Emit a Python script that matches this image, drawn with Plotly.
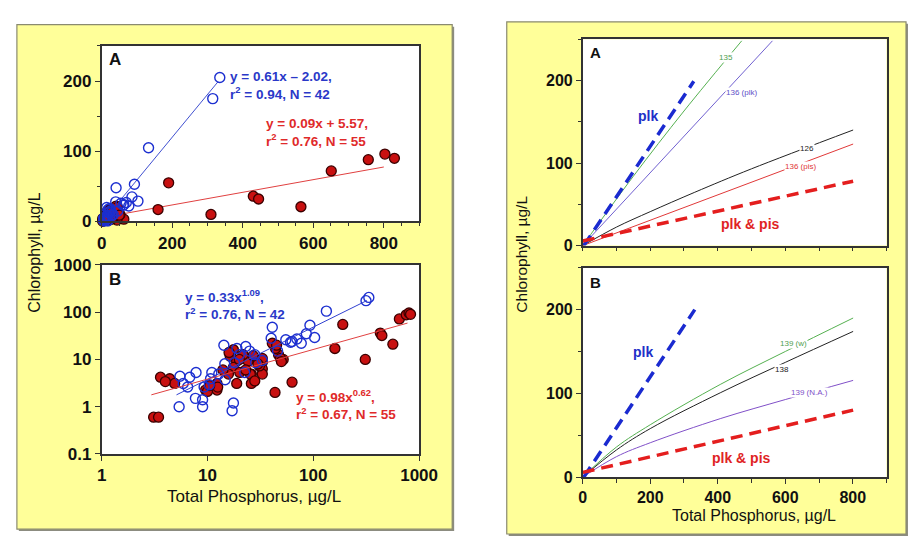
import plotly.graph_objects as go

# ---------------- data ----------------
# Plankton only (open blue circles): TP (ug/L), Chl (ug/L)
plk_tp = [335, 315, 133, 93, 103, 86, 77, 61, 55, 41, 40, 46, 28, 28.5, 23, 19, 18, 22.5,
          14.3, 14.6, 14.7, 12.8, 10.7, 10.4, 9.3, 17.6, 17.1, 9, 9, 7.7, 5.4, 7.8, 6.8,
          5.5, 6.5, 5.9, 70, 20, 11, 63, 25, 33]
plk_chl = [205, 175, 105, 53, 29, 35, 22, 23, 26, 48, 28, 15, 12.6, 8.5, 18.7, 17, 8.5, 5.3,
           20, 8.1, 3.7, 4.9, 3.9, 2.9, 2.6, 1.2, 0.82, 1.4, 1.0, 1.5, 1.0, 5.3, 4.2,
           4.4, 2.6, 3.1, 27, 12.6, 5.3, 24, 15, 9.5]
# Plankton & periphyton (filled red circles)
pis_tp = [651, 756, 803, 830, 430, 445, 565, 310, 190, 160, 63, 43.5, 52, 47, 44, 33, 33, 33,
          26, 26, 31, 33, 3.1, 3.45, 4.4, 4.9, 9.6, 12.3, 12.3, 16.4, 18.9, 17.6, 15.8, 20.2,
          24.2, 25.4, 30, 18.9, 21.7, 17.6, 3.6, 4.0, 10, 12.5, 41, 49, 16, 20, 23, 28, 14,
          10.5, 45, 50, 27]
pis_chl = [72, 88, 96, 90, 36, 32, 21, 10, 55, 17, 3.3, 2.0, 10, 12.6, 17, 8.7, 6.3, 4.9,
           4.9, 3.1, 7.3, 10.5, 0.6, 0.6, 3.9, 3.1, 2.25, 2.25, 3.1, 11.7, 9.2, 6.8, 4.9, 5.3,
           9.2, 4.9, 8, 3.1, 12.6, 16, 4.2, 3.4, 2.1, 2.6, 22, 10.5, 14, 10, 6, 3.5, 6,
           2.8, 20, 9, 12]

# regression lines (endpoints)
fitA_plk_x, fitA_plk_y = [3, 330], [0, 199]
fitA_pis_x, fitA_pis_y = [3, 800], [5.8, 77.6]
fitB_plk_x, fitB_plk_y = [5.1, 321], [1.78, 176]
fitB_pis_x, fitB_pis_y = [2.95, 777], [1.78, 58.7]

# right panel A curves
rA_plk_x, rA_plk_y = [3.3, 329], [0, 199]
rA_pis_x, rA_pis_y = [0, 801], [5.6, 78]
rA_135_x, rA_135_y = [0, 150, 300, 471], [0, 84, 163, 248]
rA_136plk_x, rA_136plk_y = [0, 562], [0, 248]
rA_126_x, rA_126_y = [0, 100, 200, 332, 500, 801], [0, 22.4, 41.1, 64.6, 93, 140]
rA_136pis_x, rA_136pis_y = [0, 801], [0, 123]
# right panel B curves
rB_plk_x, rB_plk_y = [3.3, 332], [0, 200]
rB_pis_x, rB_pis_y = [0, 801], [5.6, 80]
rB_139w_x, rB_139w_y = [0, 100, 200, 409, 600, 801], [0, 35.9, 62.5, 111, 150, 190]
rB_138_x, rB_138_y = [0, 100, 200, 409, 600, 801], [0, 32.4, 57.9, 101, 137, 174]
rB_139na_x, rB_139na_y = [0, 100, 200, 409, 600, 801], [0, 24.4, 41.0, 70, 92.6, 115.5]

lin_ticks = [0, 200, 400, 600, 800]
lin_yticks = [0, 100, 200]
log_xticks = [1, 10, 100, 1000]
log_yticks = [0.1, 1, 10, 100, 1000]
log_yticklabels = ["0.1", "1", "10", "100", "1000"]

# ---------------- styling ----------------
W, H = 918, 536
FONT = "Arial, Liberation Sans, sans-serif"
BLUE = "#1c2fd0"
RFILL = "#c81010"
YEL = "#ffff99"


def pxx(x):
    return x / W


def pyy(y):
    return 1 - y / H


fig = go.Figure()

# left A
fig.add_trace(go.Scatter(x=fitA_plk_x, y=fitA_plk_y, mode="lines", line=dict(color="#4050d0", width=1),
                         xaxis="x", yaxis="y", showlegend=False))
fig.add_trace(go.Scatter(x=fitA_pis_x, y=fitA_pis_y, mode="lines", line=dict(color="#e04040", width=1),
                         xaxis="x", yaxis="y", showlegend=False))
fig.add_trace(go.Scatter(x=pis_tp, y=pis_chl, mode="markers", cliponaxis=False,
                         marker=dict(size=10, color=RFILL, line=dict(color="#3a0000", width=1.3)),
                         xaxis="x", yaxis="y", showlegend=False))
fig.add_trace(go.Scatter(x=plk_tp, y=plk_chl, mode="markers", cliponaxis=False,
                         marker=dict(size=10, color="rgba(0,0,0,0)", line=dict(color=BLUE, width=1.4)),
                         xaxis="x", yaxis="y", showlegend=False))
# left B
fig.add_trace(go.Scatter(x=pis_tp, y=pis_chl, mode="markers", cliponaxis=False,
                         marker=dict(size=10, color=RFILL, line=dict(color="#3a0000", width=1.3)),
                         xaxis="x2", yaxis="y2", showlegend=False))
fig.add_trace(go.Scatter(x=plk_tp, y=plk_chl, mode="markers", cliponaxis=False,
                         marker=dict(size=10, color="rgba(0,0,0,0)", line=dict(color=BLUE, width=1.4)),
                         xaxis="x2", yaxis="y2", showlegend=False))
fig.add_trace(go.Scatter(x=fitB_plk_x, y=fitB_plk_y, mode="lines", line=dict(color="#3040d0", width=1),
                         xaxis="x2", yaxis="y2", showlegend=False))
fig.add_trace(go.Scatter(x=fitB_pis_x, y=fitB_pis_y, mode="lines", line=dict(color="#e04040", width=1),
                         xaxis="x2", yaxis="y2", showlegend=False))

# right A
for xs, ys, col, w, dash in [
    (rA_135_x, rA_135_y, "#55b050", 1, "solid"),
    (rA_136plk_x, rA_136plk_y, "#7060d0", 1, "solid"),
    (rA_126_x, rA_126_y, "#222222", 1, "solid"),
    (rA_136pis_x, rA_136pis_y, "#e03838", 1, "solid"),
    (rA_plk_x, rA_plk_y, "#1a2ad0", 3.5, "12px,7px"),
    (rA_pis_x, rA_pis_y, "#e41e1e", 3.5, "12px,7px"),
]:
    fig.add_trace(go.Scatter(x=xs, y=ys, mode="lines", line=dict(color=col, width=w, dash=dash, shape="spline"),
                             xaxis="x3", yaxis="y3", showlegend=False))
# right B
for xs, ys, col, w, dash in [
    (rB_139w_x, rB_139w_y, "#55b050", 1, "solid"),
    (rB_138_x, rB_138_y, "#222222", 1, "solid"),
    (rB_139na_x, rB_139na_y, "#8050c8", 1, "solid"),
    (rB_plk_x, rB_plk_y, "#1a2ad0", 3.5, "12px,7px"),
    (rB_pis_x, rB_pis_y, "#e41e1e", 3.5, "12px,7px"),
]:
    fig.add_trace(go.Scatter(x=xs, y=ys, mode="lines", line=dict(color=col, width=w, dash=dash, shape="spline"),
                             xaxis="x4", yaxis="y4", showlegend=False))

tickfont = dict(family=FONT, size=17, color="#111", weight="bold")
tickfont_r = dict(family=FONT, size=16, color="#111", weight="bold")
axcommon = dict(showline=True, mirror=True, linecolor="#333", linewidth=1.5,
                ticklen=5, tickcolor="#333", showgrid=False, zeroline=False)
minor50 = dict(dtick=50, ticks="outside", ticklen=3, tickcolor="#333")
minor100 = dict(dtick=100, ticks="outside", ticklen=4, tickcolor="#333")

layout = dict(
    width=W, height=H, margin=dict(l=0, r=0, t=0, b=0),
    paper_bgcolor="white", plot_bgcolor="white", showlegend=False,
    font=dict(family=FONT),
    xaxis=dict(domain=[pxx(91), pxx(417)], range=[0, 900], tickvals=lin_ticks, tickfont=tickfont,
               ticks="outside", minor=minor50, anchor="y", **axcommon),
    yaxis=dict(domain=[pyy(212), pyy(30)], range=[0, 250], tickvals=lin_yticks, tickfont=tickfont,
               ticks="outside", minor=minor50, anchor="x", **axcommon),
    xaxis2=dict(domain=[pxx(91), pxx(417)], type="log", range=[0, 3], tickvals=log_xticks,
                ticktext=[str(v) for v in log_xticks], tickfont=tickfont, ticks="outside", anchor="y2",
                **axcommon),
    yaxis2=dict(domain=[pyy(453), pyy(257)], type="log", range=[-1, 3], tickvals=log_yticks,
                ticktext=log_yticklabels, tickfont=tickfont, ticks="outside", anchor="x2", **axcommon),
    xaxis3=dict(domain=[pxx(585), pxx(897)], range=[0, 900], tickvals=[], showticklabels=False, ticks="",
                minor=minor100, anchor="y3", **axcommon),
    yaxis3=dict(domain=[pyy(237), pyy(23)], range=[0, 250], tickvals=lin_yticks, tickfont=tickfont_r,
                ticks="outside", minor=minor50, anchor="x3", **axcommon),
    xaxis4=dict(domain=[pxx(585), pxx(897)], range=[0, 900], tickvals=lin_ticks, tickfont=tickfont_r,
                ticks="outside", minor=minor100, anchor="y4", **axcommon),
    yaxis4=dict(domain=[pyy(477), pyy(260)], range=[0, 250], tickvals=lin_yticks, tickfont=tickfont_r,
                ticks="outside", minor=minor50, anchor="x4", **axcommon),
)

shapes = []
# yellow panels with shadow
for (x0, y0, x1, y1) in [(4, 8, 451, 531), (507, 5, 917, 536)]:
    shapes.append(dict(type="rect", xref="paper", yref="paper", x0=pxx(x0 + 2), y0=pyy(y1 + 2),
                       x1=pxx(x1 + 2), y1=pyy(y0 + 2), line=dict(width=0), fillcolor="#8c8c80", layer="below"))
    shapes.append(dict(type="rect", xref="paper", yref="paper", x0=pxx(x0), y0=pyy(y1),
                       x1=pxx(x1), y1=pyy(y0), line=dict(color="#8a8a70", width=1.2), fillcolor=YEL,
                       layer="below"))
# white plot areas
for (x0, y0, x1, y1) in [(91, 30, 417, 212), (91, 257, 417, 453), (585, 23, 897, 237), (585, 260, 897, 477)]:
    shapes.append(dict(type="rect", xref="paper", yref="paper", x0=pxx(x0), y0=pyy(y1), x1=pxx(x1),
                       y1=pyy(y0), line=dict(width=0), fillcolor="white", layer="below"))
layout["shapes"] = shapes

ann = []


def note(x, y, text, size, color, bold=True, xanchor="left", yanchor="middle", angle=0, bg=None,
         xref="paper", yref="paper"):
    d = dict(x=x, y=y, xref=xref, yref=yref, text=text, showarrow=False, xanchor=xanchor, yanchor=yanchor,
             align="left", textangle=angle,
             font=dict(family=FONT, size=size, color=color, weight="bold" if bold else "normal"))
    if bg:
        d["bgcolor"] = bg
        d["borderpad"] = 0
    ann.append(d)


# left panel texts
note(pxx(97), pyy(44), "A", 17, "#111")
note(pxx(97), pyy(272), "B", 17, "#111")
note(pxx(221), pyy(71), "y = 0.61x \u2013 2.02,<br>r<sup>2</sup> = 0.94, N = 42", 13.5, "#2a38c8")
note(pxx(258), pyy(120), "y = 0.09x + 5.57,<br>r<sup>2</sup> = 0.76, N = 55", 13.5, "#e02a2a")
note(pxx(175), pyy(298), "y = 0.33x<sup>1.09</sup>,<br>r<sup>2</sup> = 0.76, N = 42", 13.5, "#2a38c8")
note(pxx(289), pyy(402), "y = 0.98x<sup>0.62</sup>,<br>r<sup>2</sup> = 0.67, N = 55", 13.5, "#e02a2a")
note(pxx(22), pyy(244), "Chlorophyll, \u00b5g/L", 16, "#111", bold=False, xanchor="center", angle=-90)
note(pxx(247), pyy(497), "Total Phosphorus, \u00b5g/L", 17, "#111", bold=False, xanchor="center")

# right panel texts
note(pxx(590), pyy(37), "A", 15, "#111")
note(pxx(590), pyy(275), "B", 15, "#111")
note(pxx(652), pyy(103), "plk", 14, "#2030c8", xanchor="center")
note(pxx(757), pyy(215), "plk &amp; pis", 14, "#e02424", xanchor="center")
note(pxx(647), pyy(347), "plk", 14, "#2030c8", xanchor="center")
note(pxx(748), pyy(457), "plk &amp; pis", 14, "#e02424", xanchor="center")
note(pxx(522), pyy(246), "Chlorophyll, \u00b5g/L", 15.5, "#111", bold=False, xanchor="center", angle=-90)
note(pxx(761), pyy(517), "Total Phosphorus, \u00b5g/L", 16, "#111", bold=False, xanchor="center")

# curve labels (on the curves, white backing makes the gap)
note(425, 228, "135", 8, "#50a050", bold=False, xanchor="center", xref="x3", yref="y3", bg="white")
note(470, 186, "136 (plk)", 8, "#6050c8", bold=False, xanchor="center", xref="x3", yref="y3", bg="white")
note(663, 118, "126", 8, "#222", bold=False, xanchor="center", xref="x3", yref="y3", bg="white")
note(644, 96, "136 (pis)", 8, "#e03838", bold=False, xanchor="center", xref="x3", yref="y3", bg="white")
note(625, 160, "139 (w)", 8, "#50a050", bold=False, xanchor="center", xref="x4", yref="y4", bg="white")
note(591, 129, "138", 8, "#222", bold=False, xanchor="center", xref="x4", yref="y4", bg="white")
note(672, 101, "139 (N.A.)", 8, "#8050c8", bold=False, xanchor="center", xref="x4", yref="y4", bg="white")

layout["annotations"] = ann
fig.update_layout(**layout)
fig.write_html("out.html")
